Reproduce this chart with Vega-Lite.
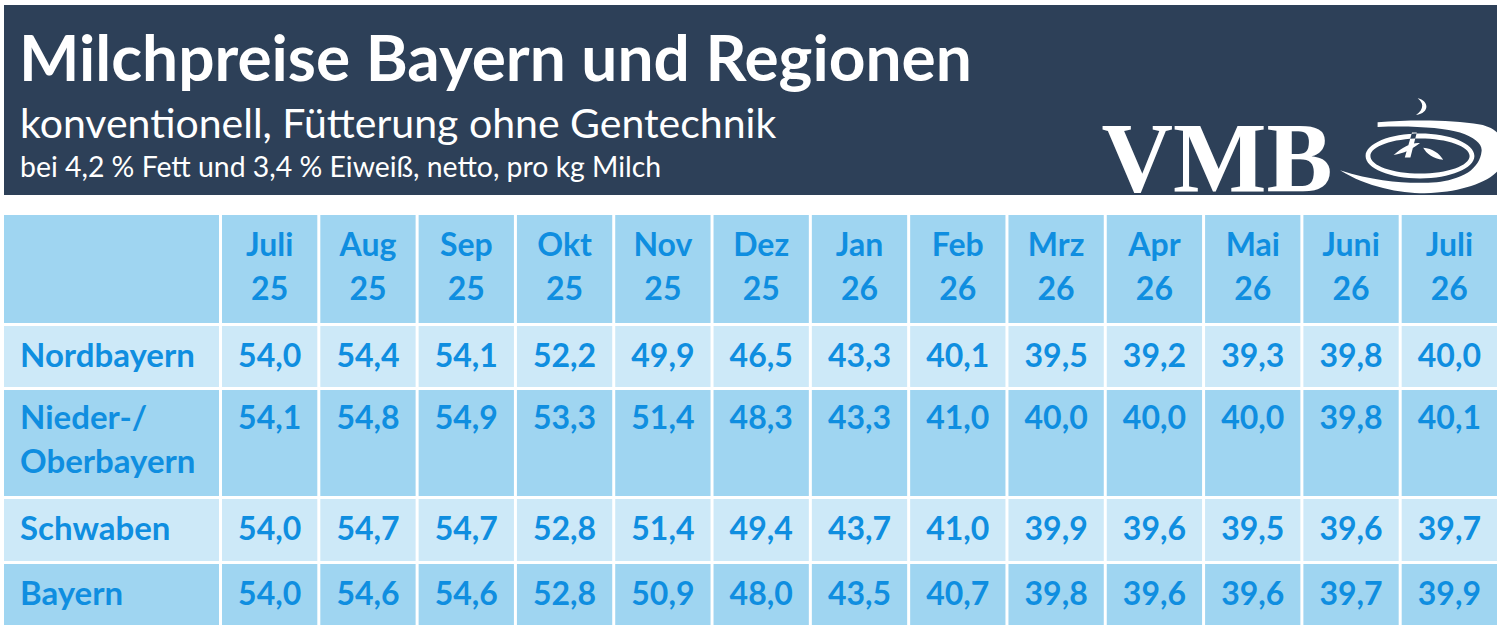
{
  "$schema": "https://vega.github.io/schema/vega-lite/v6.json",
  "description": "Milchpreise Bayern und Regionen, Tabelle",
  "padding": {"left": 4, "top": 5, "right": 3, "bottom": 0},
  "background": "white",
  "spacing": 20,
  "bounds": "flush",
  "config": {
    "view": {"stroke": null},
    "locale": {"number": {"decimal": ",", "thousands": ".", "grouping": [3], "currency": ["", " €"]}},
    "text": {"font": "Lato"}
  },
  "datasets": {
    "preise": [
      {"region": "Nordbayern", "monat": "Juli 25", "wert": 54.0},
      {"region": "Nordbayern", "monat": "Aug 25", "wert": 54.4},
      {"region": "Nordbayern", "monat": "Sep 25", "wert": 54.1},
      {"region": "Nordbayern", "monat": "Okt 25", "wert": 52.2},
      {"region": "Nordbayern", "monat": "Nov 25", "wert": 49.9},
      {"region": "Nordbayern", "monat": "Dez 25", "wert": 46.5},
      {"region": "Nordbayern", "monat": "Jan 26", "wert": 43.3},
      {"region": "Nordbayern", "monat": "Feb 26", "wert": 40.1},
      {"region": "Nordbayern", "monat": "Mrz 26", "wert": 39.5},
      {"region": "Nordbayern", "monat": "Apr 26", "wert": 39.2},
      {"region": "Nordbayern", "monat": "Mai 26", "wert": 39.3},
      {"region": "Nordbayern", "monat": "Juni 26", "wert": 39.8},
      {"region": "Nordbayern", "monat": "Juli 26", "wert": 40.0},
      {"region": "Nieder-/ Oberbayern", "monat": "Juli 25", "wert": 54.1},
      {"region": "Nieder-/ Oberbayern", "monat": "Aug 25", "wert": 54.8},
      {"region": "Nieder-/ Oberbayern", "monat": "Sep 25", "wert": 54.9},
      {"region": "Nieder-/ Oberbayern", "monat": "Okt 25", "wert": 53.3},
      {"region": "Nieder-/ Oberbayern", "monat": "Nov 25", "wert": 51.4},
      {"region": "Nieder-/ Oberbayern", "monat": "Dez 25", "wert": 48.3},
      {"region": "Nieder-/ Oberbayern", "monat": "Jan 26", "wert": 43.3},
      {"region": "Nieder-/ Oberbayern", "monat": "Feb 26", "wert": 41.0},
      {"region": "Nieder-/ Oberbayern", "monat": "Mrz 26", "wert": 40.0},
      {"region": "Nieder-/ Oberbayern", "monat": "Apr 26", "wert": 40.0},
      {"region": "Nieder-/ Oberbayern", "monat": "Mai 26", "wert": 40.0},
      {"region": "Nieder-/ Oberbayern", "monat": "Juni 26", "wert": 39.8},
      {"region": "Nieder-/ Oberbayern", "monat": "Juli 26", "wert": 40.1},
      {"region": "Schwaben", "monat": "Juli 25", "wert": 54.0},
      {"region": "Schwaben", "monat": "Aug 25", "wert": 54.7},
      {"region": "Schwaben", "monat": "Sep 25", "wert": 54.7},
      {"region": "Schwaben", "monat": "Okt 25", "wert": 52.8},
      {"region": "Schwaben", "monat": "Nov 25", "wert": 51.4},
      {"region": "Schwaben", "monat": "Dez 25", "wert": 49.4},
      {"region": "Schwaben", "monat": "Jan 26", "wert": 43.7},
      {"region": "Schwaben", "monat": "Feb 26", "wert": 41.0},
      {"region": "Schwaben", "monat": "Mrz 26", "wert": 39.9},
      {"region": "Schwaben", "monat": "Apr 26", "wert": 39.6},
      {"region": "Schwaben", "monat": "Mai 26", "wert": 39.5},
      {"region": "Schwaben", "monat": "Juni 26", "wert": 39.6},
      {"region": "Schwaben", "monat": "Juli 26", "wert": 39.7},
      {"region": "Bayern", "monat": "Juli 25", "wert": 54.0},
      {"region": "Bayern", "monat": "Aug 25", "wert": 54.6},
      {"region": "Bayern", "monat": "Sep 25", "wert": 54.6},
      {"region": "Bayern", "monat": "Okt 25", "wert": 52.8},
      {"region": "Bayern", "monat": "Nov 25", "wert": 50.9},
      {"region": "Bayern", "monat": "Dez 25", "wert": 48.0},
      {"region": "Bayern", "monat": "Jan 26", "wert": 43.5},
      {"region": "Bayern", "monat": "Feb 26", "wert": 40.7},
      {"region": "Bayern", "monat": "Mrz 26", "wert": 39.8},
      {"region": "Bayern", "monat": "Apr 26", "wert": 39.6},
      {"region": "Bayern", "monat": "Mai 26", "wert": 39.6},
      {"region": "Bayern", "monat": "Juni 26", "wert": 39.7},
      {"region": "Bayern", "monat": "Juli 26", "wert": 39.9}
    ]
  },
  "vconcat": [
    {
      "width": 1493,
      "height": 190,
      "view": {"fill": "#2d4058", "stroke": null},
      "layer": [
        {
          "data": {"values": [{"text": "Milchpreise Bayern und Regionen"}]},
          "mark": {"type": "text", "align": "left", "baseline": "alphabetic", "font": "Lato", "fontWeight": "bold", "fontSize": 64, "color": "white"},
          "encoding": {"text": {"field": "text"}, "x": {"value": 15}, "y": {"value": 76}}
        },
        {
          "data": {"values": [{"text": "konventionell, Fütterung ohne Gentechnik"}]},
          "mark": {"type": "text", "align": "left", "baseline": "alphabetic", "font": "Lato", "fontSize": 41, "color": "white"},
          "encoding": {"text": {"field": "text"}, "x": {"value": 16}, "y": {"value": 133}}
        },
        {
          "data": {"values": [{"text": "bei 4,2 % Fett und 3,4 % Eiweiß, netto, pro kg Milch"}]},
          "mark": {"type": "text", "align": "left", "baseline": "alphabetic", "font": "Lato", "fontSize": 28.4, "color": "white"},
          "encoding": {"text": {"field": "text"}, "x": {"value": 16}, "y": {"value": 172}}
        },
        {
          "data": {"values": [{"text": "VMB"}]},
          "mark": {"type": "text", "align": "center", "baseline": "alphabetic", "font": "Liberation Serif", "fontWeight": "bold", "fontSize": 99, "color": "white"},
          "encoding": {"text": {"field": "text"}, "x": {"value": 1213}, "y": {"value": 186}}
        },
        {
          "data": {"values": [{"logo": "Schwung"}]},
          "mark": {
            "type": "point",
            "filled": true,
            "opacity": 1,
            "color": "white",
            "size": 25600,
            "shape": "M -1 0.19 C -0.6 0.44 -0.1 0.5 0.21 0.47 C 0.6 0.44 0.97 0.3 1.03 0.1 L 1.03 -0.2 C 0.96 -0.31 0.86 -0.36 0.75 -0.38 C 0.4 -0.44 -0.1 -0.44 -0.53 -0.41 L -0.53 -0.35 C -0.1 -0.37 0.3 -0.34 0.5 -0.28 C 0.68 -0.22 0.78 -0.14 0.77 -0.05 C 0.76 0.06 0.7 0.15 0.6 0.22 C 0.48 0.29 0.34 0.33 0.21 0.34 C -0.1 0.36 -0.5 0.35 -1 0.19 Z M -0.68 0.0125 A 0.68 0.28 0 1 0 0.68 0.0125 A 0.68 0.28 0 1 0 -0.68 0.0125 Z M -0.62 0.0125 A 0.62 0.22 0 1 1 0.62 0.0125 A 0.62 0.22 0 1 1 -0.62 0.0125 Z M -0.1 -0.28 L -0.04 -0.28 L -0.12 0.03 L -0.19 0.03 Z M -0.33 0 C -0.22 -0.1 -0.1 -0.16 0 -0.15 C -0.1 -0.07 -0.2 -0.02 -0.33 0 Z M 0.04 -0.09 C 0.16 -0.08 0.24 -0.02 0.29 0.06 C 0.16 0.05 0.08 -0.02 0.04 -0.09 Z M -0.03 -0.71 C 0.12 -0.68 0.12 -0.52 -0.05 -0.5 C 0.05 -0.57 0.05 -0.65 -0.03 -0.71 Z"
          },
          "encoding": {"x": {"value": 1416}, "y": {"value": 150}}
        }
      ]
    },
    {
      "columns": 2,
      "spacing": 3,
      "bounds": "flush",
      "concat": [
        {
          "width": 215,
          "height": 108,
          "view": {"fill": "#9fd5f1"},
          "data": {"values": [{"region": ""}]},
          "mark": {"type": "text"},
          "encoding": {"text": {"field": "region"}}
        },
        {
          "width": 1275,
          "height": 108,
          "data": {"name": "preise"},
          "transform": [{"filter": {"field": "region", "equal": "Bayern"}}],
          "encoding": {"x": {"field": "monat", "type": "nominal", "sort": null, "axis": null, "scale": {"type": "band", "paddingInner": 0.0305, "paddingOuter": 0}}},
          "layer": [
            {"mark": {"type": "rect", "color": "#9fd5f1"}},
            {
              "mark": {"type": "text", "font": "Lato", "fontWeight": "bold", "fontSize": 32, "color": "#0f8ee0", "lineBreak": " ", "lineHeight": 44, "baseline": "middle", "dy": -23},
              "encoding": {"text": {"field": "monat"}}
            }
          ]
        },
        {
          "width": 215,
          "height": 61,
          "view": {"fill": "#cde9f8"},
          "data": {"values": [{"region": "Nordbayern"}]},
          "mark": {"type": "text", "align": "left", "baseline": "middle", "font": "Lato", "fontWeight": "bold", "fontSize": 33, "color": "#0f8ee0", "dx": 16},
          "encoding": {"text": {"field": "region"}, "x": {"field": "region", "type": "nominal", "bandPosition": 0, "axis": null, "scale": {"type": "band", "paddingInner": 0, "paddingOuter": 0}}}
        },
        {
          "width": 1275,
          "height": 61,
          "data": {"name": "preise"},
          "transform": [{"filter": {"field": "region", "equal": "Nordbayern"}}],
          "encoding": {"x": {"field": "monat", "type": "nominal", "sort": null, "axis": null, "scale": {"type": "band", "paddingInner": 0.0305, "paddingOuter": 0}}},
          "layer": [
            {"mark": {"type": "rect", "color": "#cde9f8"}},
            {
              "mark": {"type": "text", "font": "Lato", "fontWeight": "bold", "fontSize": 32, "color": "#0f8ee0", "baseline": "middle"},
              "encoding": {"text": {"field": "wert", "type": "quantitative", "format": ".1f"}}
            }
          ]
        },
        {
          "width": 215,
          "height": 106,
          "view": {"fill": "#9fd5f1"},
          "data": {"values": [{"region": "Nieder-/ Oberbayern"}]},
          "mark": {"type": "text", "align": "left", "baseline": "middle", "font": "Lato", "fontWeight": "bold", "fontSize": 33, "color": "#0f8ee0", "dx": 16, "dy": -24, "lineBreak": " ", "lineHeight": 44},
          "encoding": {"text": {"field": "region"}, "x": {"field": "region", "type": "nominal", "bandPosition": 0, "axis": null, "scale": {"type": "band", "paddingInner": 0, "paddingOuter": 0}}}
        },
        {
          "width": 1275,
          "height": 106,
          "data": {"name": "preise"},
          "transform": [{"filter": {"field": "region", "equal": "Nieder-/ Oberbayern"}}],
          "encoding": {"x": {"field": "monat", "type": "nominal", "sort": null, "axis": null, "scale": {"type": "band", "paddingInner": 0.0305, "paddingOuter": 0}}},
          "layer": [
            {"mark": {"type": "rect", "color": "#9fd5f1"}},
            {
              "mark": {"type": "text", "font": "Lato", "fontWeight": "bold", "fontSize": 32, "color": "#0f8ee0", "baseline": "middle", "dy": -24},
              "encoding": {"text": {"field": "wert", "type": "quantitative", "format": ".1f"}}
            }
          ]
        },
        {
          "width": 215,
          "height": 62,
          "view": {"fill": "#cde9f8"},
          "data": {"values": [{"region": "Schwaben"}]},
          "mark": {"type": "text", "align": "left", "baseline": "middle", "font": "Lato", "fontWeight": "bold", "fontSize": 33, "color": "#0f8ee0", "dx": 16},
          "encoding": {"text": {"field": "region"}, "x": {"field": "region", "type": "nominal", "bandPosition": 0, "axis": null, "scale": {"type": "band", "paddingInner": 0, "paddingOuter": 0}}}
        },
        {
          "width": 1275,
          "height": 62,
          "data": {"name": "preise"},
          "transform": [{"filter": {"field": "region", "equal": "Schwaben"}}],
          "encoding": {"x": {"field": "monat", "type": "nominal", "sort": null, "axis": null, "scale": {"type": "band", "paddingInner": 0.0305, "paddingOuter": 0}}},
          "layer": [
            {"mark": {"type": "rect", "color": "#cde9f8"}},
            {
              "mark": {"type": "text", "font": "Lato", "fontWeight": "bold", "fontSize": 32, "color": "#0f8ee0", "baseline": "middle"},
              "encoding": {"text": {"field": "wert", "type": "quantitative", "format": ".1f"}}
            }
          ]
        },
        {
          "width": 215,
          "height": 61,
          "view": {"fill": "#9fd5f1"},
          "data": {"values": [{"region": "Bayern"}]},
          "mark": {"type": "text", "align": "left", "baseline": "middle", "font": "Lato", "fontWeight": "bold", "fontSize": 33, "color": "#0f8ee0", "dx": 16},
          "encoding": {"text": {"field": "region"}, "x": {"field": "region", "type": "nominal", "bandPosition": 0, "axis": null, "scale": {"type": "band", "paddingInner": 0, "paddingOuter": 0}}}
        },
        {
          "width": 1275,
          "height": 61,
          "data": {"name": "preise"},
          "transform": [{"filter": {"field": "region", "equal": "Bayern"}}],
          "encoding": {"x": {"field": "monat", "type": "nominal", "sort": null, "axis": null, "scale": {"type": "band", "paddingInner": 0.0305, "paddingOuter": 0}}},
          "layer": [
            {"mark": {"type": "rect", "color": "#9fd5f1"}},
            {
              "mark": {"type": "text", "font": "Lato", "fontWeight": "bold", "fontSize": 32, "color": "#0f8ee0", "baseline": "middle"},
              "encoding": {"text": {"field": "wert", "type": "quantitative", "format": ".1f"}}
            }
          ]
        }
      ]
    }
  ]
}
